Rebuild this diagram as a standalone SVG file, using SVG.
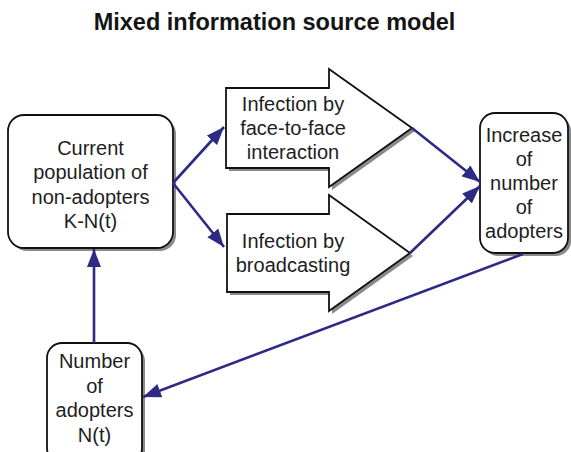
<svg xmlns="http://www.w3.org/2000/svg" width="571" height="452" viewBox="0 0 571 452">
<defs>
<style>
.title{font-family:"Liberation Sans",Arial,sans-serif;font-size:23.5px;font-weight:bold;fill:#141414;text-anchor:middle}
.lbl{font-family:"Liberation Sans",Arial,sans-serif;font-size:20px;fill:#1e1e1e;text-anchor:middle}
.shape{fill:#fff;stroke:#111;stroke-width:1.8}
.shadow{fill:#8a8a8a;stroke:none}
.conn{fill:none;stroke:#2d2a86;stroke-width:2.6;marker-end:url(#ah)}
</style>
<marker id="ah" markerUnits="userSpaceOnUse" markerWidth="20" markerHeight="14" refX="18" refY="7" orient="auto">
<path d="M0,0 L18,7 L0,14 z" fill="#2d2a86"/>
</marker>
</defs>
<rect width="571" height="452" fill="#fff"/>
<text class="title" x="274.5" y="30">Mixed information source model</text>

<g id="current">
<rect class="shadow" x="11" y="118" width="165" height="133" rx="16"/>
<rect class="shape" x="8" y="115" width="165" height="133" rx="16"/>
<text class="lbl" x="90.5" y="155">Current</text>
<text class="lbl" x="90.5" y="179">population of</text>
<text class="lbl" x="90.5" y="203.5">non-adopters</text>
<text class="lbl" x="90.5" y="228">K-N(t)</text>
</g>

<g id="face">
<polygon class="shadow" points="229,91 332,91 332,72 415,131 332,190 332,171 229,171"/>
<polygon class="shape" points="226,88 329,88 329,69 412,128 329,187 329,168 226,168"/>
<text class="lbl" x="293" y="111">Infection by</text>
<text class="lbl" x="293" y="135">face-to-face</text>
<text class="lbl" x="293" y="158.5">interaction</text>
</g>

<g id="broadcast">
<polygon class="shadow" points="230,217 332,217 332,198 413,256 332,314 332,295 230,295"/>
<polygon class="shape" points="227,214 329,214 329,195 410,253 329,311 329,292 227,292"/>
<text class="lbl" x="293" y="248">Infection by</text>
<text class="lbl" x="293" y="272">broadcasting</text>
</g>

<g id="increase">
<rect class="shadow" x="483" y="116" width="88" height="140" rx="15"/>
<rect class="shape" x="480" y="113" width="88" height="140" rx="15"/>
<text class="lbl" x="524" y="142">Increase</text>
<text class="lbl" x="524" y="166">of</text>
<text class="lbl" x="524" y="190">number</text>
<text class="lbl" x="524" y="214">of</text>
<text class="lbl" x="524" y="238">adopters</text>
</g>

<g id="number">
<rect class="shadow" x="50" y="346" width="95" height="120" rx="15"/>
<rect class="shape" x="47" y="343" width="95" height="120" rx="15"/>
<text class="lbl" x="94.5" y="368">Number</text>
<text class="lbl" x="94.5" y="392.5">of</text>
<text class="lbl" x="94.5" y="417">adopters</text>
<text class="lbl" x="94.5" y="442">N(t)</text>
</g>

<g id="connectors">
<path class="conn" d="M173,183 L224,127"/>
<path class="conn" d="M173,183 L224,247"/>
<path class="conn" d="M412,128 L480,182"/>
<path class="conn" d="M410,253 L480,186"/>
<path class="conn" d="M523,254 L143,397"/>
<path class="conn" d="M94,343 L94,249"/>
</g>
</svg>
